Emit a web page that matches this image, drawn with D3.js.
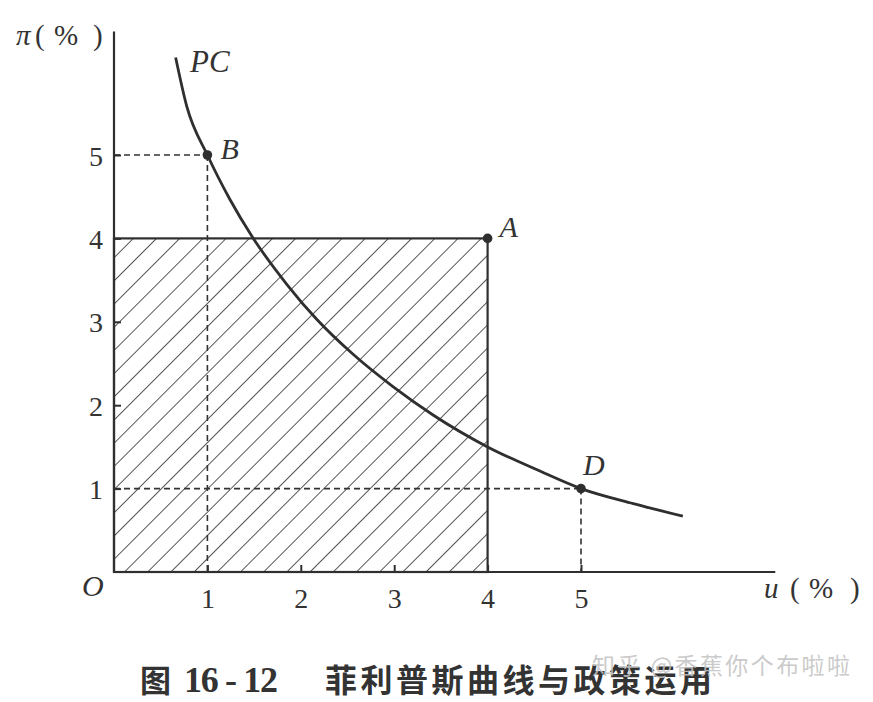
<!DOCTYPE html>
<html>
<head>
<meta charset="utf-8">
<script src="https://cdn.jsdelivr.net/npm/d3@7"></script>
<style>
  html, body { margin: 0; padding: 0; background: #fff; }
  svg { display: block; }
  .serif { font-family: "Liberation Serif", "DejaVu Serif", serif; }
</style>
</head>
<body>
<svg id="chart" width="873" height="702"></svg>
<script>
// ---- data ----
const xTicks = [1, 2, 3, 4, 5];
const yTicks = [1, 2, 3, 4, 5];
// Phillips curve (u %, π %)
const curveU  = [0.66, 0.78, 1.00, 1.24, 1.48, 1.85, 2.17, 2.56, 2.99, 3.42, 4.00, 4.56, 5.00, 5.56, 6.09];
const curvePi = [6.17, 5.58, 5.00, 4.47, 4.02, 3.45, 3.03, 2.61, 2.22, 1.88, 1.50, 1.21, 1.00, 0.82, 0.67];
// labelled points
const pointNames = ["B", "A", "D"];
const pointU  = [1, 4, 5];
const pointPi = [5, 4, 1];
// shaded region (0,0)-(4,4)
const rectU = [0, 4];
const rectPi = [0, 4];
const axisMaxU = 7.08;
const axisMaxPi = 6.48;
const titleFig = "图";
const titleNum = "16 - 12";
const titleText = "菲利普斯曲线与政策运用";
const watermark = "知乎 @香蕉你个布啦啦";

// ---- scales ----
const x = d3.scaleLinear().domain([0, 5]).range([114, 581]);
const y = d3.scaleLinear().domain([0, 5]).range([572, 155]);

const svg = d3.select("#chart");
const ink = "#2f2f2f";

// hatch pattern
const defs = svg.append("defs");
const pat = defs.append("pattern")
  .attr("id", "hatch").attr("patternUnits", "userSpaceOnUse")
  .attr("width", 16.4).attr("height", 16.4)
  .attr("patternTransform", "rotate(45)");
pat.append("line").attr("x1", 0).attr("y1", -2).attr("x2", 0).attr("y2", 20)
  .attr("stroke", "#3a3a3a").attr("stroke-width", 1.7);

// shaded rectangle
svg.append("rect")
  .attr("x", x(rectU[0])).attr("y", y(rectPi[1]))
  .attr("width", x(rectU[1]) - x(rectU[0]))
  .attr("height", y(rectPi[0]) - y(rectPi[1]))
  .attr("fill", "url(#hatch)")
  .attr("stroke", ink).attr("stroke-width", 2.2);

// dashed guides for B and D
[0, 2].forEach(i => {
  svg.append("line")
    .attr("x1", x(0)).attr("y1", y(pointPi[i]))
    .attr("x2", x(pointU[i])).attr("y2", y(pointPi[i]))
    .attr("stroke", "#333").attr("stroke-width", 1.6)
    .attr("stroke-dasharray", "6,4");
  svg.append("line")
    .attr("x1", x(pointU[i])).attr("y1", y(pointPi[i]))
    .attr("x2", x(pointU[i])).attr("y2", y(0))
    .attr("stroke", "#333").attr("stroke-width", 1.6)
    .attr("stroke-dasharray", "6,4");
});

// axes ticks and labels
const yAxis = d3.axisLeft(y).tickValues(yTicks).tickSize(-7).tickPadding(18)
  .tickFormat(d3.format("d"));
const gy = svg.append("g").attr("transform", `translate(${x(0)},0)`).call(yAxis);
gy.select(".domain").remove();
gy.selectAll(".tick line").attr("stroke", ink).attr("stroke-width", 2);
gy.selectAll(".tick text").attr("class", "serif").attr("font-size", 28)
  .attr("fill", "#333").attr("x", -11).attr("dy", "0.36em");

const xAxis = d3.axisBottom(x).tickValues(xTicks).tickSize(-7).tickPadding(14)
  .tickFormat(d3.format("d"));
const gx = svg.append("g").attr("transform", `translate(0,${y(0)})`).call(xAxis);
gx.select(".domain").remove();
gx.selectAll(".tick line").attr("stroke", ink).attr("stroke-width", 2);
gx.selectAll(".tick text").attr("class", "serif").attr("font-size", 28)
  .attr("fill", "#333").attr("y", 9).attr("dy", "0.95em");

// axis lines
svg.append("line").attr("x1", x(0)).attr("y1", y(0)).attr("x2", x(0)).attr("y2", y(axisMaxPi))
  .attr("stroke", ink).attr("stroke-width", 2.2);
svg.append("line").attr("x1", x(0)).attr("y1", y(0)).attr("x2", x(axisMaxU)).attr("y2", y(0))
  .attr("stroke", ink).attr("stroke-width", 2.2);

// Phillips curve
const curveData = curveU.map((u, i) => [u, curvePi[i]]);
svg.append("path")
  .datum(curveData)
  .attr("fill", "none").attr("stroke", ink).attr("stroke-width", 2.8)
  .attr("d", d3.line().x(d => x(d[0])).y(d => y(d[1])).curve(d3.curveMonotoneX));

// points
pointNames.forEach((n, i) => {
  svg.append("circle").attr("cx", x(pointU[i])).attr("cy", y(pointPi[i]))
    .attr("r", 4.8).attr("fill", ink);
});

// point labels
const italic = (t, px, py, fs) => svg.append("text").attr("class", "serif")
  .attr("x", px).attr("y", py).attr("font-size", fs).attr("font-style", "italic")
  .attr("fill", "#333").text(t);
italic("B", x(pointU[0]) + 13, y(pointPi[0]) + 4, 30);
italic("A", x(pointU[1]) + 12, y(pointPi[1]) - 1, 30);
italic("D", x(pointU[2]) + 2, y(pointPi[2]) - 14, 30);
italic("PC", 190, 72, 31);
italic("O", 82, 596, 30);

// axis titles (pieces spaced as in the reference)
const piece = (t, px, py, it) => svg.append("text").attr("class", "serif")
  .attr("x", px).attr("y", py).attr("font-size", 29).attr("fill", "#333")
  .attr("font-style", it ? "italic" : "normal").text(t);
piece("π", 16, 45, true);
piece("(", 35, 45, false);
piece("%", 54, 45, false);
piece(")", 93, 45, false);
piece("u", 764, 598, true);
piece("(", 790, 598, false);
piece("%", 809, 598, false);
piece(")", 850, 598, false);

// caption
svg.append("text").attr("x", 140).attr("y", 692)
  .attr("font-family", "'Noto Sans CJK SC'").attr("font-weight", 700)
  .attr("font-size", 31).attr("fill", "#333").text(titleFig);
svg.append("text").attr("class", "serif").attr("x", 184).attr("y", 692)
  .attr("font-weight", 700).attr("font-size", 36).attr("fill", "#333")
  .attr("textLength", 94).attr("lengthAdjust", "spacing")
  .style("white-space", "pre").text(titleNum);
svg.append("text").attr("x", 325).attr("y", 692)
  .attr("font-family", "'Noto Sans CJK SC'").attr("font-weight", 700)
  .attr("font-size", 32).attr("fill", "#333")
  .attr("textLength", 387).attr("lengthAdjust", "spacing").text(titleText);

// watermark
svg.append("text").attr("x", 592).attr("y", 674)
  .attr("font-family", "'Noto Sans CJK SC'").attr("font-size", 23)
  .attr("fill", "#c4c4c4").attr("fill-opacity", 0.9)
  .attr("textLength", 258).attr("lengthAdjust", "spacing").text(watermark);
</script>
</body>
</html>
